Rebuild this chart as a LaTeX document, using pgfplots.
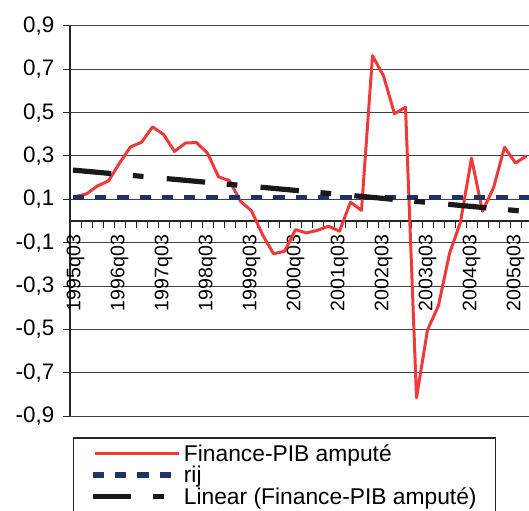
\documentclass[border=0pt]{standalone}
\usepackage{pgfplots}
\pgfplotsset{compat=1.18}
\usepackage{pgfplotstable}
\usepackage{fontspec}
\setmainfont{Liberation Sans}
\definecolor{finred}{RGB}{238,58,58}
\definecolor{rijblue}{RGB}{33,50,100}
\pgfplotstableread{
i v
0 0.113
1 0.125
2 0.162
3 0.185
4 0.267
5 0.342
6 0.363
7 0.434
8 0.400
9 0.321
10 0.360
11 0.362
12 0.313
13 0.204
14 0.186
15 0.091
16 0.047
17 -0.063
18 -0.151
19 -0.140
20 -0.040
21 -0.055
22 -0.043
23 -0.024
24 -0.047
25 0.087
26 0.049
27 0.763
28 0.670
29 0.495
30 0.525
31 -0.816
32 -0.503
33 -0.390
34 -0.150
35 -0.005
36 0.290
37 0.045
38 0.153
39 0.340
40 0.268
41 0.300
}\findata
\begin{document}
\begin{tikzpicture}
\begin{axis}[
  at={(35pt,47pt)}, anchor=south west,
  scale only axis, width=231pt, height=195pt,
  xmin=-0.5, xmax=41.5, ymin=-0.9, ymax=0.9,
  axis x line=middle, axis y line=left,
  axis line style={-, black!85, line width=0.6pt},
  clip=false,
  ytick={-0.9,-0.7,-0.5,-0.3,-0.1,0.1,0.3,0.5,0.7,0.9},
  xtick={0,4,...,40},
  xticklabels={1995q03,1996q03,1997q03,1998q03,1999q03,2000q03,2001q03,2002q03,2003q03,2004q03,2005q03},
  minor xtick={-0.5,0.5,...,41.5},
  tick align=outside,
  major tick length=3.5pt, minor tick length=3.5pt,
  major x tick style={draw=none},
  tick style={black!85, line width=0.5pt},
  ymajorgrids,
  major grid style={black!75, line width=0.5pt},
  yticklabel style={font=\fontsize{11.2}{13}\selectfont, xshift=-0.8pt,
    /pgf/number format/.cd, fixed, fixed zerofill, precision=1, use comma, assume math mode=true},
  xticklabel style={font=\fontsize{9.8}{11}\selectfont, rotate=90, anchor=east},
  legend image code/.code={\draw[#1] (0pt,0pt) -- (42pt,0pt);},
  legend cell align=left,
  legend style={at={(axis description cs:0.0065,-0.055)}, anchor=north west,
    draw=black!85, line width=0.6pt, fill=white,
    font=\fontsize{11.4}{13}\selectfont,
    inner xsep=9.5pt, inner ysep=2.4pt, row sep=0pt,
    nodes={inner sep=0pt, text height=9.2pt, text depth=1.5pt},
    /tikz/every odd column/.append style={column sep=0.8pt}},
]
\addplot[finred, line width=1.5pt, line join=round] table[x=i, y=v] {\findata};
\addlegendentry{Finance-PIB amputé}
\addplot[rijblue, line width=2.85pt, line cap=rect, dash pattern=on 2.8pt off 8.35pt] coordinates {(0,0.108) (41,0.108)};
\addlegendentry{rij}
\addplot[black!90, line width=2.6pt, line cap=rect, dash pattern=on 16.65pt off 13.45pt on 2.75pt off 14.25pt] coordinates {(0,0.234) (41,0.044)};
\addlegendentry{Linear (Finance-PIB amputé)}
\end{axis}
\pgfresetboundingbox
\path (0,0) rectangle (264.5pt,255pt);
\end{tikzpicture}
\end{document}
